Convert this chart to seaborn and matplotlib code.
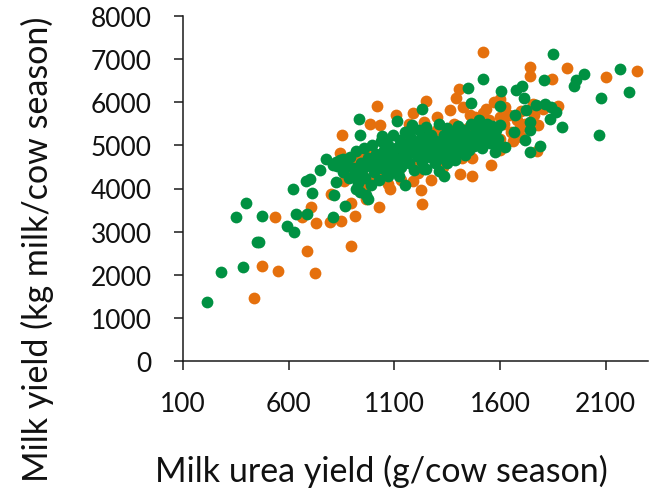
import matplotlib
matplotlib.use("Agg")
import matplotlib.pyplot as plt
import seaborn as sns
import pandas as pd

# Series: green
green_x = [215, 280, 385, 350, 400, 475, 450, 460, 590, 625, 620, 636, 687, 683, 702, 712, 750, 775,
           810, 815, 868, 931, 937, 1041, 1112, 1183, 1230, 1238, 1149, 1070, 1335, 1448, 1519, 1464,
           1606, 1598, 1598, 1622, 1574, 1677, 1705, 1711, 1669, 1724, 1664, 1740, 1740, 1716, 1740,
           1787, 1850, 1806, 1772, 1811, 1843, 1866, 1835, 1895, 1948, 1961, 1996, 2068, 2079, 2166, 2208,
           826, 920, 937, 967, 975, 810, 825, 857,
           830, 845, 858, 872, 885, 890, 902, 915, 920, 928, 940, 948, 955, 962, 975, 983, 990, 996,
           1005, 1012, 1020, 1027, 1035, 1042, 1050, 1058, 1063, 1072, 1080, 1088, 1095, 1102, 1110,
           1118, 1125, 1133, 1140, 1148, 1155, 1162, 1170, 1178, 1185, 1192, 1200, 1208, 1215, 1222,
           1230, 1238, 1245, 1252, 1260, 1267, 1275, 1282, 1290, 1297, 1305, 1312, 1320, 1328, 1335,
           1342, 1350, 1357, 1365, 1372, 1380, 1387, 1395, 1402, 1410, 1417, 1425, 1432, 1440, 1447,
           1455, 1462, 1470, 1478, 1485, 1492, 1500, 1507, 1515, 1522, 1530, 1537, 1545, 1552, 1560,
           1568, 1575, 1583, 1590,
           1060, 1120, 1180, 1250, 1310, 1350, 1400, 1230, 1190, 1100]
green_y = [1370, 2070, 2170, 3350, 3670, 3370, 2750, 2760, 3120, 2985, 3990, 3400, 3410, 4170, 4225, 3890, 4440, 4690,
           3330, 3840, 3590, 5620, 5230, 5210, 5560, 5465, 5850, 4460, 4070, 4280, 4300, 6320, 6535, 5990,
           6265, 5915, 5465, 4960, 4845, 6295, 6370, 6110, 5700, 5815, 5310, 5545, 5350, 5115, 4845,
           4975, 7115, 6510, 5930, 5970, 5890, 5775, 5605, 5425, 6380, 6510, 6645, 5250, 6100, 6760, 6240,
           4150, 3990, 3915, 3840, 3760, 4535, 4610, 4690,
           4520, 4660, 4380, 4560, 4250, 4720, 4470, 4330, 4860, 4120, 4600, 4420, 4950, 4240, 4700, 4520, 4080, 5020,
           4380, 4800, 4600, 4200, 5100, 4480, 4900, 4700, 4330, 5000, 4560, 4820, 5250, 4420, 4950,
           4680, 5120, 4500, 4880, 5300, 4720, 5020, 4580, 5180, 4870, 4420, 5050, 4760, 5350, 4950,
           4620, 5150, 4850, 5420, 5000, 4720, 5250, 4920, 4580, 5100, 4830, 5500, 5020, 4700, 5250,
           4950, 5400, 5100, 4800, 5300, 5000, 4650, 5200, 5450, 4920, 5120, 5350, 4780, 5050, 5250,
           4900, 5500, 5150, 4980, 5350, 5080, 5600, 5250, 4950, 5400, 5150, 5500, 5300, 5050, 5450,
           5200, 5000, 5350, 5150,
           5080, 4300, 5380, 4450, 4400, 4600, 4850, 5200, 5100, 4600]

# Series: orange
orange_x = [436, 475, 549, 688, 726, 896, 534, 663, 707, 731, 794, 849, 912, 896, 1027, 964, 802, 1232,
            1224, 1272, 1188, 1409, 1469, 1556, 1519, 1740, 1740, 1846, 1918, 2103, 2249, 851, 845, 1019,
            987, 1030, 1109, 1251, 1188, 1393, 1404, 1424, 1362, 1535, 1570, 1601, 1625, 1756, 1803, 1874,
            1780, 1776, 1598, 1598, 1693, 1467, 1337, 1156, 1046, 1070, 987, 862, 920,
            880, 910, 950, 980, 1000, 1020, 1050, 1080, 1100, 1120, 1150, 1170, 1200, 1220, 1250, 1270,
            1300, 1320, 1350, 1380, 1400, 1420, 1450, 1480, 1500, 1520, 1550, 1580, 1620, 1650, 1680,
            1700, 1720, 1760, 1520, 1460, 1300, 1330, 1210, 1130, 1080, 960, 940, 1240, 1170, 1600,
            1640, 1660, 1700]
orange_y = [1470, 2210, 2095, 2560, 2040, 2660, 3335, 3335, 3565, 3195, 3215, 3235, 3370, 3665, 3580, 3745, 3875, 3645,
            3970, 4200, 4165, 4325, 4280, 4550, 7170, 6820, 6615, 6550, 6785, 6575, 6735, 5235, 4830, 5905,
            5505, 5480, 5700, 6025, 5750, 6100, 6300, 5890, 5815, 5835, 6010, 6085, 5890, 5970, 5855, 5915,
            5480, 4860, 4885, 5155, 5405, 4705, 4615, 5310, 5080, 4110, 4145, 4185, 4380,
            4500, 4650, 4300, 4850, 4500, 4750, 4350, 4650, 4900, 4450, 4800, 5100, 4600, 4900, 5200, 4800,
            5350, 4900, 5200, 5500, 5100, 4700, 5400, 5650, 5300, 5050, 5600, 5400, 5500, 5300, 5600,
            5200, 5500, 5700, 5750, 5700, 5650, 4500, 4350, 4200, 4000, 4000, 4750, 5550, 5500, 5650,
            5700, 5100, 5800]

x_ticks = [100, 600, 1100, 1600, 2100]
y_ticks = [0, 1000, 2000, 3000, 4000, 5000, 6000, 7000, 8000]
x_label = "Milk urea yield (g/cow season)"
y_label = "Milk yield (kg milk/cow season)"

sns.set_theme(style="ticks")
plt.rcParams['font.family'] = ['Lato', 'DejaVu Sans']

fig = plt.figure(figsize=(6.6, 4.89), dpi=100)
ax = fig.add_axes([183/660, 1-362/489, (648-183)/660, (362-17)/489])

df_o = pd.DataFrame({"x": orange_x, "y": orange_y})
df_g = pd.DataFrame({"x": green_x, "y": green_y})
sns.scatterplot(data=df_o, x="x", y="y", ax=ax, color="#E5700D", s=72, linewidth=0, alpha=1, zorder=2)
sns.scatterplot(data=df_g, x="x", y="y", ax=ax, color="#009142", s=72, linewidth=0, alpha=1, zorder=3)

ax.set_xlim(100, 2300)
ax.set_ylim(0, 8000)
ax.set_xticks(x_ticks)
ax.set_yticks(y_ticks)
ax.set_xticklabels([str(t) for t in x_ticks])
ax.set_yticklabels([str(t) for t in y_ticks])
ax.set_xlabel("")
ax.set_ylabel("")
for s in ["top", "right"]:
    ax.spines[s].set_visible(False)
for s in ["left", "bottom"]:
    ax.spines[s].set_color("#1a1a1a")
    ax.spines[s].set_linewidth(1.1)
ax.tick_params(axis="both", direction="out", length=6.5, width=1.1, color="#1a1a1a",
               labelsize=19, labelcolor="#111111")
ax.tick_params(axis="y", pad=16)
ax.tick_params(axis="x", pad=15)

fig.text(381/660, 1-471/489, x_label, ha="center", va="center", fontsize=24.5, color="#111111")
fig.text(37/660, 1-249/489, y_label, ha="center", va="center", rotation=90, fontsize=24.5, color="#111111")

fig.savefig("out.png", dpi=100)
